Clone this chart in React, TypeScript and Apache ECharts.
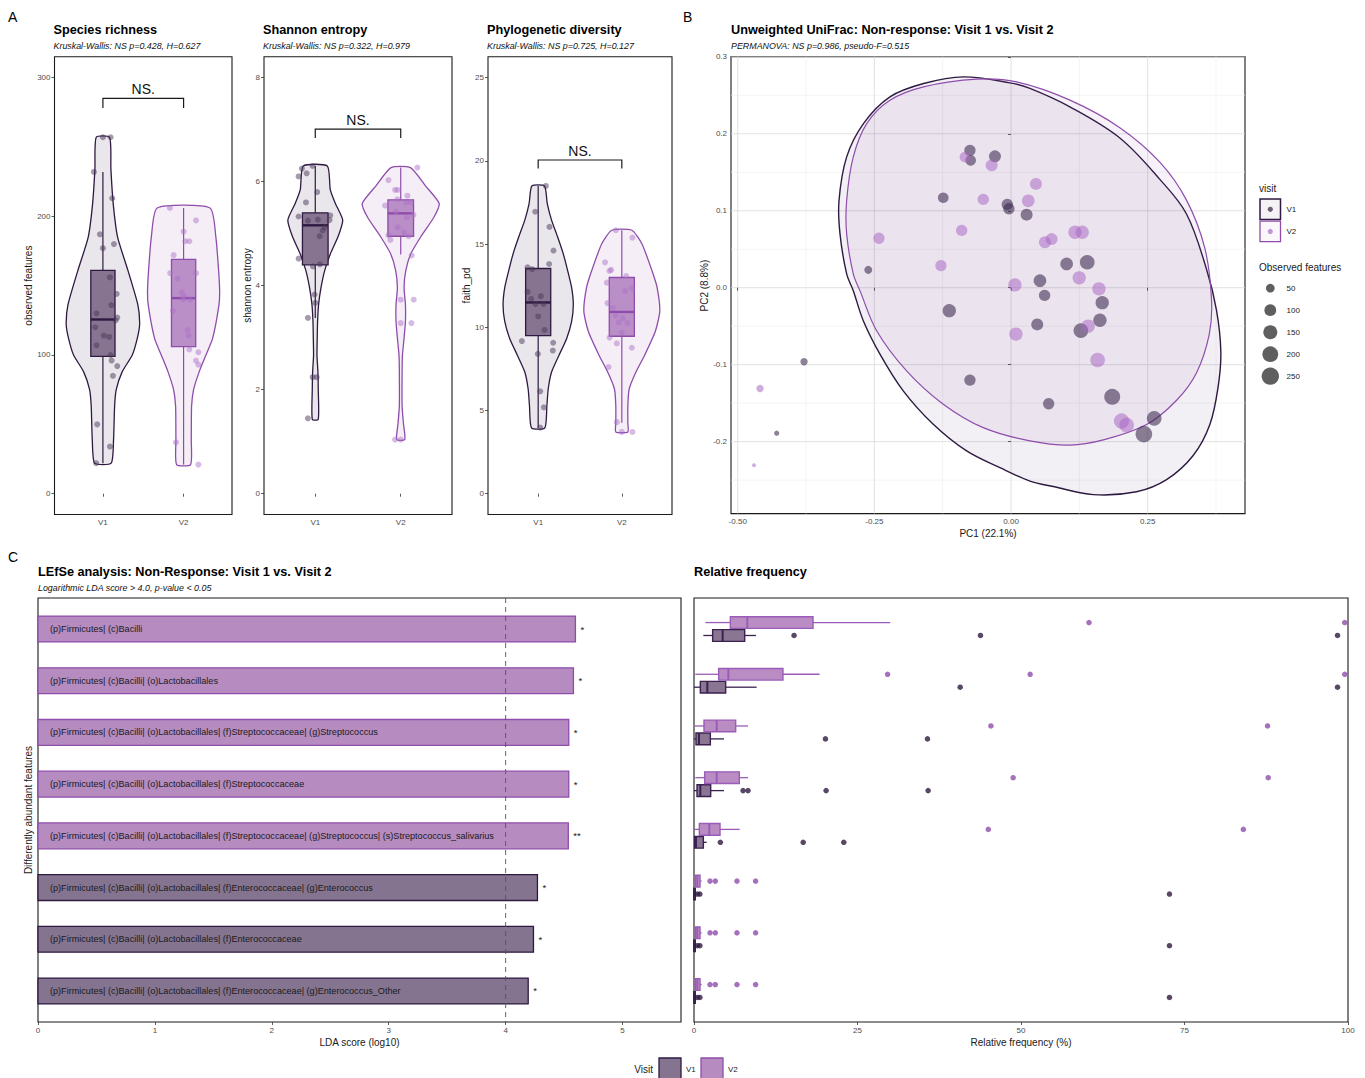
import React, { useEffect, useRef } from "react";
import * as echarts from "echarts";

const FONT = '"Liberation Sans", Arial, Helvetica, sans-serif';

// ================= Panel A: alpha diversity =================
const visits = ["V1", "V2"];

const richnessTicks = [0, 100, 200, 300];
const shannonTicks = [0, 2, 4, 6, 8];
const faithTicks = [0, 5, 10, 15, 20, 25];

// violin outlines: [value, half-width]
const richnessViolinV1 = [[22, 0.103], [39, 0.132], [63, 0.145], [75, 0.165], [88, 0.24], [100, 0.364], [112, 0.426], [122, 0.455], [136, 0.434], [161, 0.31], [185, 0.182], [209, 0.128], [234, 0.099], [257, 0.083]];
const richnessViolinV2 = [[21, 0.087], [39, 0.095], [63, 0.099], [75, 0.124], [88, 0.194], [100, 0.277], [112, 0.36], [136, 0.438], [146, 0.447], [161, 0.434], [185, 0.4], [206, 0.327]];
const shannonViolinV1 = [[1.43, 0.035], [2.01, 0.035], [2.34, 0.031], [2.66, 0.02], [2.99, 0.023], [3.31, 0.027], [3.64, 0.039], [3.96, 0.067], [4.29, 0.11], [4.61, 0.176], [4.94, 0.266], [5.26, 0.321], [5.58, 0.235], [5.84, 0.176], [6.3, 0.141]];
const shannonViolinV2 = [[1.04, 0.047], [1.36, 0.031], [1.69, 0.016], [2.34, 0.016], [2.66, 0.02], [2.99, 0.039], [3.31, 0.055], [3.64, 0.055], [3.96, 0.039], [4.29, 0.059], [4.61, 0.117], [4.94, 0.235], [5.32, 0.39], [5.58, 0.45], [5.91, 0.294], [6.27, 0.114]];
const faithViolinV1 = [[3.96, 0.08], [5.28, 0.104], [6.29, 0.12], [7.31, 0.16], [8.32, 0.249], [9.33, 0.341], [10.35, 0.4], [11.36, 0.42], [12.38, 0.4], [13.39, 0.353], [14.41, 0.3], [15.42, 0.233], [16.44, 0.16], [17.45, 0.108], [18.49, 0.076]];
const faithViolinV2 = [[3.71, 0.072], [4.26, 0.072], [5.28, 0.072], [6.29, 0.088], [7.31, 0.169], [8.32, 0.273], [9.74, 0.4], [10.96, 0.454], [12.38, 0.422], [13.39, 0.361], [15.02, 0.24], [15.83, 0.12]];

// boxes: [lower whisker, q1, median, q3, upper whisker]
const richnessBoxV1 = [22, 99, 125.6, 161, 232];
const richnessBoxV2 = [21, 106, 141, 169, 206];
const shannonBoxV1 = [3.38, 4.4, 5.16, 5.4, 6.3];
const shannonBoxV2 = [4.6, 4.95, 5.39, 5.65, 6.27];
const faithBoxV1 = [3.96, 9.5, 11.49, 13.53, 18.49];
const faithBoxV2 = [4.26, 9.46, 10.92, 12.99, 15.83];

// jittered samples: [x position, value]
const richnessPointsV1 = [[1.0, 257], [1.095, 257], [0.888, 232], [1.116, 213], [0.963, 187], [1.137, 180], [1.0, 177], [1.087, 156], [1.17, 144], [1.104, 136], [0.921, 130], [1.178, 127], [1.158, 125], [0.905, 120], [1.012, 114], [1.079, 113], [0.921, 107], [1.095, 100], [1.108, 96], [1.178, 92], [1.124, 85], [0.929, 50], [1.087, 34], [0.917, 22]];
const richnessPointsV2 = [[1.83, 206], [2.154, 197], [2.0, 189], [2.021, 182], [2.071, 182], [1.876, 172], [1.834, 159], [2.154, 159], [1.925, 155], [1.979, 145], [2.008, 142], [2.083, 140], [1.992, 140], [1.867, 132], [2.05, 118], [2.062, 114], [2.071, 104], [2.183, 102], [2.154, 96], [2.183, 93], [1.905, 37], [2.183, 21]];
const shannonPointsV1 = [[0.969, 6.3], [0.844, 6.25], [0.805, 6.1], [0.899, 6.16], [1.023, 5.8], [0.891, 5.6], [0.805, 5.33], [1.175, 5.35], [0.914, 5.25], [1.031, 5.27], [1.167, 5.26], [1.109, 5.12], [1.086, 5.06], [1.051, 4.95], [0.805, 4.52], [0.973, 4.37], [1.054, 4.41], [0.992, 3.83], [1.0, 3.67], [0.914, 3.38], [0.969, 2.24], [1.016, 2.24], [0.914, 1.45]];
const shannonPointsV2 = [[2.195, 6.27], [1.856, 6.03], [1.934, 5.84], [1.965, 5.84], [2.078, 5.73], [1.817, 5.54], [1.961, 5.66], [1.946, 5.42], [2.062, 5.6], [2.117, 5.6], [2.148, 5.36], [2.07, 5.31], [1.965, 5.12], [2.039, 5.03], [1.856, 4.97], [1.879, 4.88], [2.093, 4.95], [2.128, 4.58], [2.0, 3.73], [2.152, 3.73], [2.0, 3.28], [2.125, 3.28], [1.934, 1.04], [2.0, 1.04]];
const faithPointsV1 = [[1.092, 18.49], [0.964, 16.94], [1.135, 16.03], [1.183, 14.61], [1.131, 13.8], [0.873, 13.6], [0.928, 13.49], [0.873, 12.13], [0.916, 11.71], [1.032, 11.87], [0.968, 11.4], [1.064, 11.4], [1.0, 10.65], [1.076, 9.84], [0.805, 9.17], [1.179, 9.07], [1.175, 8.6], [0.996, 8.4], [1.024, 6.15], [1.068, 5.19], [1.024, 3.97]];
const faithPointsV2 = [[1.928, 15.83], [2.127, 15.38], [1.8, 13.9], [1.853, 13.39], [1.873, 13.45], [1.821, 12.68], [2.052, 13.08], [2.04, 12.18], [2.12, 12.34], [1.829, 11.45], [1.892, 11.16], [1.928, 10.69], [2.012, 10.55], [1.964, 10.29], [2.068, 10.25], [2.0, 9.68], [1.853, 9.38], [1.94, 9.03], [2.12, 8.77], [1.841, 7.61], [1.94, 4.3], [2.0, 3.71], [2.127, 3.71]];

// significance bracket: [bar level, tick end]
const richnessBracket = [285, 278];
const shannonBracket = [7.01, 6.84];
const faithBracket = [20.05, 19.54];

// ================= Panel B: PCoA =================
const pcoaXTicks = [-0.5, -0.25, 0, 0.25];
const pcoaXMinor = [-0.375, -0.125, 0.125, 0.375];
const pcoaYTicks = [-0.2, -0.1, 0, 0.1, 0.2, 0.3];
const pcoaYMinor = [-0.25, -0.15, -0.05, 0.05, 0.15, 0.25];

// [PC1, PC2, observed features]
const pcoaV1 = [[-0.0752, 0.1785, 91], [-0.0739, 0.1655, 79], [-0.0294, 0.1707, 104], [-0.124, 0.1169, 79], [-0.0069, 0.1082, 91], [-0.0039, 0.1026, 91], [0.0285, 0.0949, 104], [-0.2612, 0.0232, 42], [-0.113, -0.0298, 134], [-0.0752, -0.12, 91], [-0.3787, -0.0962, 36], [-0.4287, -0.189, 23], [0.1017, 0.0309, 119], [0.1394, 0.0331, 169], [0.0529, 0.0092, 119], [0.0614, -0.01, 91], [0.1668, -0.0194, 134], [0.1626, -0.0423, 134], [0.1278, -0.0557, 169], [0.0479, -0.0477, 104], [0.0688, -0.1508, 91], [0.1851, -0.1418, 208], [0.2619, -0.1697, 169], [0.243, -0.1902, 229]];
const pcoaV2 = [[-0.0843, 0.1698, 79], [-0.0355, 0.159, 104], [-0.0508, 0.1147, 91], [0.0455, 0.1349, 104], [0.0315, 0.1129, 119], [-0.0903, 0.0744, 91], [-0.2416, 0.0643, 91], [-0.1282, 0.0288, 91], [0.0071, 0.0036, 134], [0.009, -0.0602, 134], [-0.4592, -0.131, 36], [-0.4702, -0.2307, 21], [0.062, 0.0591, 104], [0.0742, 0.0632, 104], [0.1169, 0.0721, 134], [0.1302, 0.0721, 134], [0.1247, 0.0129, 134], [0.1608, -0.0014, 134], [0.1412, -0.0499, 134], [0.1584, -0.0939, 169], [0.2022, -0.1732, 187], [0.2114, -0.1785, 169]];

const hullV1 = [[-0.0874, 0.274], [-0.002, 0.2662], [0.0346, 0.2589], [0.1077, 0.2349], [0.199, 0.1945], [0.2722, 0.1408], [0.321, 0.0958], [0.3576, 0.0241], [0.376, -0.0297], [0.3838, -0.0835], [0.3789, -0.1284], [0.3637, -0.1777], [0.3332, -0.218], [0.2845, -0.2494], [0.2296, -0.2651], [0.1503, -0.2688], [0.0772, -0.2583], [0.0346, -0.2512], [-0.0203, -0.2339], [-0.0812, -0.2121], [-0.1423, -0.1774], [-0.1972, -0.134], [-0.2398, -0.0862], [-0.2703, -0.0428], [-0.2886, -0.0038], [-0.3007, 0.018], [-0.3129, 0.07], [-0.3147, 0.1134], [-0.3007, 0.17], [-0.27, 0.2133], [-0.2215, 0.248], [-0.16, 0.2653]];
const hullV2 = [[-0.063, 0.271], [0.0102, 0.2675], [0.1077, 0.2438], [0.199, 0.208], [0.2722, 0.1632], [0.321, 0.1138], [0.3546, 0.051], [0.3668, -0.0163], [0.3625, -0.061], [0.3394, -0.1104], [0.3029, -0.1462], [0.248, -0.1777], [0.1687, -0.1978], [0.1077, -0.2046], [0.0346, -0.1991], [-0.0508, -0.1818], [-0.124, -0.1513], [-0.1911, -0.108], [-0.2459, -0.0559], [-0.2764, -0.0038], [-0.2886, 0.018], [-0.3007, 0.07], [-0.3007, 0.1134], [-0.2886, 0.17], [-0.264, 0.2133], [-0.2215, 0.2436], [-0.16, 0.261]];

const sizeLegendValues = [50, 100, 150, 200, 250];
const OBS_MIN = 21;
const OBS_MAX = 257;

// ================= Panel C: LEfSe =================
const lefseFeatures = [
  "(p)Firmicutes| (c)Bacilli",
  "(p)Firmicutes| (c)Bacilli| (o)Lactobacillales",
  "(p)Firmicutes| (c)Bacilli| (o)Lactobacillales| (f)Streptococcaceae| (g)Streptococcus",
  "(p)Firmicutes| (c)Bacilli| (o)Lactobacillales| (f)Streptococcaceae",
  "(p)Firmicutes| (c)Bacilli| (o)Lactobacillales| (f)Streptococcaceae| (g)Streptococcus| (s)Streptococcus_salivarius",
  "(p)Firmicutes| (c)Bacilli| (o)Lactobacillales| (f)Enterococcaceae| (g)Enterococcus",
  "(p)Firmicutes| (c)Bacilli| (o)Lactobacillales| (f)Enterococcaceae",
  "(p)Firmicutes| (c)Bacilli| (o)Lactobacillales| (f)Enterococcaceae| (g)Enterococcus_Other",
];
const lefseLDA = [4.597, 4.58, 4.54, 4.54, 4.536, 4.272, 4.238, 4.193];
const lefseVisit = ["V2", "V2", "V2", "V2", "V2", "V1", "V1", "V1"];
const lefseSignif = ["*", "*", "*", "*", "**", "*", "*", "*"];
const ldaTicks = [0, 1, 2, 3, 4, 5];
const ldaThreshold = [4];

// ================= Panel D: relative frequency =================
const relTicks = [0, 25, 50, 75, 100];
// [lower whisker, q1, median, q3, upper whisker] per feature row
const relBoxV2 = [[1.73, 5.56, 8.15, 18.2, 30.0], [0.2, 3.77, 5.25, 13.6, 19.2], [0.1, 1.53, 3.47, 6.37, 8.26], [0.2, 1.63, 3.47, 6.93, 8.26], [0.1, 0.82, 2.34, 3.98, 6.98], [0, 0.2, 0.5, 0.92, 1.17], [0, 0.2, 0.5, 0.92, 1.17], [0, 0.2, 0.5, 0.92, 1.17]];
const relBoxV1 = [[1.43, 2.85, 4.38, 7.75, 9.48], [0, 0.97, 2.04, 4.84, 9.58], [0, 0.3, 0.76, 2.5, 4.59], [0, 0.46, 0.97, 2.55, 4.59], [0, 0.1, 0.3, 1.43, 1.94], [0, 0, 0, 0.2, 0.4], [0, 0, 0, 0.2, 0.4], [0, 0, 0, 0.2, 0.4]];
const relOutV2 = [[60.4, 99.5], [29.6, 51.4, 99.5], [45.4, 87.7], [48.8, 87.8], [45.0, 84.0], [2.45, 3.26, 6.57, 9.42], [2.45, 3.26, 6.57, 9.42], [2.45, 3.26, 6.57, 9.42]];
const relOutV1 = [[15.3, 43.8, 98.4], [40.7, 98.4], [20.1, 35.7], [7.5, 8.26, 20.2, 35.8], [4.03, 16.7, 22.9], [0.5, 0.9, 72.7], [0.5, 0.9, 72.7], [0.5, 0.9, 72.7]];

// ================= styling =================
const V1_LINE = "#2e1a40";
const V2_LINE = "#8e4dab";
const VIOLIN_FILL = ["#e9e6ec", "#f5eef7"];
const LINE = [V1_LINE, V2_LINE];
const BOX_FILL = ["#877490", "#ba8fc7"];
const PT = ["rgba(72,52,90,0.62)", "rgba(172,112,198,0.6)"];
const BUBBLE = ["rgba(58,38,76,0.72)", "rgba(168,104,196,0.68)"];
const HULL_FILL = ["rgba(59,30,84,0.065)", "rgba(155,89,182,0.08)"];
const BAR_FILL: any = { V1: "#857490", V2: "#b68bbf" };
const BAR_LINE: any = { V1: V1_LINE, V2: V2_LINE };
const REL_FILL = ["#8a7692", "#b98cc4"];
const REL_LINE = ["#3a2150", "#9a5cb6"];
const REL_OUT = ["#2e1a40", "#8e4dab"];
const DODGE = 0.125;

const TITLE_SIZE = 12.7;
const SUB_SIZE = 8.9;
const AXIS_TITLE_SIZE = 10;
const TICK_SIZE = 8;

const sizeOf = (v: number) => 3.95 + 13.55 * Math.sqrt(Math.max(0, (v - OBS_MIN) / (OBS_MAX - OBS_MIN)));

const alphaPanels = [
  { title: "Species richness", subtitle: "Kruskal-Wallis: NS p=0.428, H=0.627", yName: "observed features", ticks: richnessTicks, violins: [richnessViolinV1, richnessViolinV2], boxes: [richnessBoxV1, richnessBoxV2], points: [richnessPointsV1, richnessPointsV2], bracket: richnessBracket },
  { title: "Shannon entropy", subtitle: "Kruskal-Wallis: NS p=0.322, H=0.979", yName: "shannon entropy", ticks: shannonTicks, violins: [shannonViolinV1, shannonViolinV2], boxes: [shannonBoxV1, shannonBoxV2], points: [shannonPointsV1, shannonPointsV2], bracket: shannonBracket },
  { title: "Phylogenetic diversity", subtitle: "Kruskal-Wallis: NS p=0.725, H=0.127", yName: "faith_pd", ticks: faithTicks, violins: [faithViolinV1, faithViolinV2], boxes: [faithBoxV1, faithBoxV2], points: [faithPointsV1, faithPointsV2], bracket: faithBracket },
];
const alphaLayout = [
  { left: 54.5, width: 177.5, yNameX: 28 },
  { left: 264, width: 188, yNameX: 247 },
  { left: 488, width: 184, yNameX: 466.5 },
];

const tickLabel = { color: "#4d4d4d", fontSize: TICK_SIZE, fontFamily: FONT, margin: 4 };
const tickStyle = { show: true, length: 3, lineStyle: { color: "#333", width: 0.8 } };

function txt(x: number, y: number, text: string, o: any = {}) {
  const align = o.align || "left";
  return {
    type: "text",
    x,
    y,
    rotation: o.rot || 0,
    silent: true,
    z: 100,
    style: {
      text,
      fontFamily: FONT,
      fontSize: o.size || 9,
      fontWeight: o.weight || "normal",
      fontStyle: o.italic ? "italic" : "normal",
      fill: o.color || "#1a1a1a",
      textAlign: align,
      textVerticalAlign: "middle",
      align,
      verticalAlign: "middle",
    },
  };
}

function buildOption() {
  const grid: any[] = [];
  const xAxis: any[] = [];
  const yAxis: any[] = [];
  const series: any[] = [];
  const graphics: any[] = [];

  const gridBase = { show: true, borderColor: "#1a1a1a", borderWidth: 1.1, backgroundColor: "transparent" };

  // ---------- Panel A ----------
  alphaPanels.forEach((p, gi) => {
    const L = alphaLayout[gi];
    const lo = p.ticks[0];
    const hi = p.ticks[p.ticks.length - 1];
    const pad = 0.05 * (hi - lo);
    grid.push({ ...gridBase, left: L.left, top: 56.8, width: L.width, height: 457.7 });
    xAxis.push({
      type: "value", gridIndex: gi, min: 0.4, max: 2.6,
      axisLine: { show: false }, splitLine: { show: false },
      axisTick: { ...tickStyle, customValues: [1, 2] },
      axisLabel: { ...tickLabel, customValues: [1, 2], formatter: (v: number) => visits[Math.round(v) - 1] },
    });
    yAxis.push({
      type: "value", gridIndex: gi, min: lo - pad, max: hi + pad,
      axisLine: { show: false }, splitLine: { show: false },
      axisTick: { ...tickStyle, customValues: p.ticks },
      axisLabel: { ...tickLabel, customValues: p.ticks },
    });

    series.push({
      type: "custom", xAxisIndex: gi, yAxisIndex: gi, z: 1, silent: true,
      data: [[1, 0], [2, 1]],
      renderItem: (params: any, api: any) => {
        const k = params.dataIndex;
        const prof = p.violins[k];
        const cx = api.value(0);
        const right = prof.map((d: number[]) => api.coord([cx + d[1], d[0]]));
        const left = prof.slice().reverse().map((d: number[]) => api.coord([cx - d[1], d[0]]));
        return {
          type: "polygon",
          shape: { points: right.concat(left), smooth: 0.2 },
          style: { fill: VIOLIN_FILL[k], stroke: LINE[k], lineWidth: 1.3 },
        };
      },
    });

    series.push({
      type: "custom", xAxisIndex: gi, yAxisIndex: gi, z: 2, silent: true,
      data: [[1, ...p.boxes[0]], [2, ...p.boxes[1]]],
      renderItem: (params: any, api: any) => {
        const k = params.dataIndex;
        const cx = api.value(0);
        const w = 0.15;
        const vlo = api.value(1), q1 = api.value(2), med = api.value(3), q3 = api.value(4), vhi = api.value(5);
        const top = api.coord([cx, vhi]);
        const bq3 = api.coord([cx, q3]);
        const bq1 = api.coord([cx, q1]);
        const bot = api.coord([cx, vlo]);
        const a = api.coord([cx - w, q3]);
        const b = api.coord([cx + w, q1]);
        const m1 = api.coord([cx - w, med]);
        const m2 = api.coord([cx + w, med]);
        const st = { stroke: LINE[k], lineWidth: 1.2 };
        return {
          type: "group",
          children: [
            { type: "line", shape: { x1: top[0], y1: top[1], x2: bq3[0], y2: bq3[1] }, style: st },
            { type: "line", shape: { x1: bq1[0], y1: bq1[1], x2: bot[0], y2: bot[1] }, style: st },
            { type: "rect", shape: { x: a[0], y: a[1], width: b[0] - a[0], height: b[1] - a[1] }, style: { fill: BOX_FILL[k], stroke: LINE[k], lineWidth: 1.3 } },
            { type: "line", shape: { x1: m1[0], y1: m1[1], x2: m2[0], y2: m2[1] }, style: { stroke: LINE[k], lineWidth: 2.4 } },
          ],
        };
      },
    });

    [0, 1].forEach((k) => {
      series.push({
        type: "scatter", xAxisIndex: gi, yAxisIndex: gi, z: 3, silent: true,
        data: p.points[k], symbolSize: 6, itemStyle: { color: PT[k] },
      });
    });

    series.push({
      type: "custom", xAxisIndex: gi, yAxisIndex: gi, z: 4, silent: true,
      data: [[1, 2, p.bracket[0], p.bracket[1]]],
      renderItem: (params: any, api: any) => {
        const x1 = api.value(0), x2 = api.value(1), lvl = api.value(2), end = api.value(3);
        const a = api.coord([x1, end]);
        const b = api.coord([x1, lvl]);
        const c = api.coord([x2, lvl]);
        const d = api.coord([x2, end]);
        return {
          type: "group",
          children: [
            { type: "polyline", shape: { points: [a, b, c, d] }, style: { stroke: "#1a1a1a", lineWidth: 1.2, fill: "none" } },
            { type: "text", x: (b[0] + c[0]) / 2, y: b[1] - 9, style: { text: "NS.", fontFamily: FONT, fontSize: 14, fill: "#111", align: "center", verticalAlign: "middle", textAlign: "center", textVerticalAlign: "middle" } },
          ],
        };
      },
    });

    graphics.push(txt(L.left - 1, 30, p.title, { size: TITLE_SIZE, weight: "bold", color: "#000" }));
    graphics.push(txt(L.left - 1, 46, p.subtitle, { size: SUB_SIZE, italic: true, color: "#111" }));
    graphics.push(txt(L.yNameX, 285.6, p.yName, { size: AXIS_TITLE_SIZE, align: "center", rot: Math.PI / 2 }));
  });

  // ---------- Panel B ----------
  const gB = 3;
  grid.push({ ...gridBase, left: 731, top: 56.6, width: 514, height: 457 });
  xAxis.push({
    type: "value", gridIndex: gB, min: -0.5123, max: 0.428,
    axisLine: { show: false }, splitLine: { show: false },
    axisTick: { ...tickStyle, customValues: pcoaXTicks },
    axisLabel: { ...tickLabel, customValues: pcoaXTicks, formatter: (v: number) => v.toFixed(2) },
  });
  yAxis.push({
    type: "value", gridIndex: gB, min: -0.2935, max: 0.3003,
    axisLine: { show: false }, splitLine: { show: false },
    axisTick: { ...tickStyle, customValues: pcoaYTicks },
    axisLabel: { ...tickLabel, customValues: pcoaYTicks, formatter: (v: number) => v.toFixed(1) },
  });
  const gridLineData = [
    ...pcoaXMinor.map((v) => [v, 0, 0]),
    ...pcoaYMinor.map((v) => [v, 1, 0]),
    ...pcoaXTicks.map((v) => [v, 0, 1]),
    ...pcoaYTicks.map((v) => [v, 1, 1]),
  ];
  series.push({
    type: "custom", xAxisIndex: gB, yAxisIndex: gB, z: 0, silent: true,
    data: gridLineData,
    renderItem: (params: any, api: any) => {
      const v = api.value(0), o = api.value(1), m = api.value(2);
      const cs = params.coordSys;
      const style = { stroke: m ? "#d9d9d9" : "#ececec", lineWidth: m ? 0.8 : 0.6 };
      if (o === 0) {
        const x = api.coord([v, 0])[0];
        return { type: "line", shape: { x1: x, y1: cs.y, x2: x, y2: cs.y + cs.height }, style };
      }
      const y = api.coord([0, v])[1];
      return { type: "line", shape: { x1: cs.x, y1: y, x2: cs.x + cs.width, y2: y }, style };
    },
  });
  const hulls = [hullV1, hullV2];
  series.push({
    type: "custom", xAxisIndex: gB, yAxisIndex: gB, z: 1, silent: true,
    data: [[0, 0], [0, 0]],
    renderItem: (params: any, api: any) => {
      const k = params.dataIndex;
      const pts = hulls[k].map((d) => api.coord(d));
      return {
        type: "polygon",
        shape: { points: pts, smooth: 0.35 },
        style: { fill: HULL_FILL[k], stroke: LINE[k], lineWidth: k === 0 ? 1.4 : 1.2 },
      };
    },
  });
  [pcoaV1, pcoaV2].forEach((d, k) => {
    series.push({
      type: "scatter", xAxisIndex: gB, yAxisIndex: gB, z: 3, silent: true,
      data: d, symbolSize: (val: number[]) => sizeOf(val[2]),
      itemStyle: { color: BUBBLE[k] },
    });
  });
  graphics.push(txt(683, 17, "B", { size: 14, color: "#000" }));
  graphics.push(txt(731, 30, "Unweighted UniFrac: Non-response: Visit 1 vs. Visit 2", { size: TITLE_SIZE, weight: "bold", color: "#000" }));
  graphics.push(txt(731, 46, "PERMANOVA: NS p=0.986, pseudo-F=0.515", { size: SUB_SIZE, italic: true, color: "#111" }));
  graphics.push(txt(704, 285.6, "PC2 (8.8%)", { size: AXIS_TITLE_SIZE, align: "center", rot: Math.PI / 2 }));
  graphics.push(txt(988, 533, "PC1 (22.1%)", { size: AXIS_TITLE_SIZE, align: "center" }));

  // legend B
  graphics.push(txt(1259, 188, "visit", { size: AXIS_TITLE_SIZE }));
  graphics.push({ type: "rect", shape: { x: 1260, y: 199, width: 20.5, height: 20.5 }, style: { fill: "#f4f2f5", stroke: V1_LINE, lineWidth: 1.5 }, z: 100, silent: true });
  graphics.push({ type: "circle", shape: { cx: 1270.3, cy: 209.3, r: 2.6 }, style: { fill: BUBBLE[0] }, z: 101, silent: true });
  graphics.push(txt(1286.5, 209.3, "V1", { size: TICK_SIZE }));
  graphics.push({ type: "rect", shape: { x: 1260, y: 221.2, width: 20.5, height: 20.5 }, style: { fill: "#fbf8fc", stroke: V2_LINE, lineWidth: 1.3 }, z: 100, silent: true });
  graphics.push({ type: "circle", shape: { cx: 1270.3, cy: 231.5, r: 2.6 }, style: { fill: BUBBLE[1] }, z: 101, silent: true });
  graphics.push(txt(1286.5, 231.5, "V2", { size: TICK_SIZE }));
  graphics.push(txt(1259, 267.5, "Observed features", { size: AXIS_TITLE_SIZE }));
  sizeLegendValues.forEach((v, i) => {
    const cy = 288.2 + i * 22;
    graphics.push({ type: "circle", shape: { cx: 1270.3, cy, r: sizeOf(v) / 2 }, style: { fill: "rgba(60,60,60,0.82)" }, z: 100, silent: true });
    graphics.push(txt(1286.5, cy, String(v), { size: TICK_SIZE }));
  });

  // ---------- Panel C ----------
  const gC = 4;
  grid.push({ ...gridBase, left: 38, top: 598, width: 643, height: 424 });
  xAxis.push({
    type: "value", gridIndex: gC, min: 0, max: 5.5,
    axisLine: { show: false }, splitLine: { show: false },
    axisTick: { ...tickStyle, customValues: ldaTicks },
    axisLabel: { ...tickLabel, customValues: ldaTicks },
  });
  yAxis.push({
    type: "value", gridIndex: gC, min: 0.4, max: 8.6, inverse: true,
    axisLine: { show: false }, splitLine: { show: false }, axisTick: { show: false }, axisLabel: { show: false },
  });
  series.push({
    type: "custom", xAxisIndex: gC, yAxisIndex: gC, z: 2, silent: true,
    data: lefseLDA.map((s, i) => [s, i + 1]),
    renderItem: (params: any, api: any) => {
      const i = params.dataIndex;
      const s = api.value(0), row = api.value(1);
      const g = lefseVisit[i];
      const p0 = api.coord([0, row - 0.25]);
      const p1 = api.coord([s, row + 0.25]);
      const yc = api.coord([0, row])[1];
      return {
        type: "group",
        children: [
          { type: "rect", shape: { x: p0[0], y: p0[1], width: p1[0] - p0[0], height: p1[1] - p0[1] }, style: { fill: BAR_FILL[g], stroke: BAR_LINE[g], lineWidth: 1.3 } },
          { type: "text", x: p0[0] + 12, y: yc, style: { text: lefseFeatures[i], fontFamily: FONT, fontSize: 9.1, fill: "#1a1a1a", align: "left", verticalAlign: "middle", textAlign: "left", textVerticalAlign: "middle" } },
          { type: "text", x: p1[0] + 5, y: yc, style: { text: lefseSignif[i], fontFamily: FONT, fontSize: 9.5, fill: "#1a1a1a", align: "left", verticalAlign: "middle", textAlign: "left", textVerticalAlign: "middle" } },
        ],
      };
    },
  });
  series.push({
    type: "custom", xAxisIndex: gC, yAxisIndex: gC, z: 5, silent: true,
    data: ldaThreshold.map((v) => [v, 1]),
    renderItem: (params: any, api: any) => {
      const cs = params.coordSys;
      const x = api.coord([api.value(0), 1])[0];
      return { type: "line", shape: { x1: x, y1: cs.y, x2: x, y2: cs.y + cs.height }, style: { stroke: "#555", lineWidth: 0.9, lineDash: [5, 4] } };
    },
  });
  graphics.push(txt(8, 17, "A", { size: 14, color: "#000" }));
  graphics.push(txt(8, 557, "C", { size: 14, color: "#000" }));
  graphics.push(txt(38, 572, "LEfSe analysis: Non-Response: Visit 1 vs. Visit 2", { size: TITLE_SIZE, weight: "bold", color: "#000" }));
  graphics.push(txt(38, 588, "Logarithmic LDA score > 4.0, p-value < 0.05", { size: SUB_SIZE, italic: true, color: "#111" }));
  graphics.push(txt(28, 810, "Differently abundant features", { size: AXIS_TITLE_SIZE, align: "center", rot: Math.PI / 2 }));
  graphics.push(txt(359.5, 1042, "LDA score (log10)", { size: AXIS_TITLE_SIZE, align: "center" }));

  // ---------- Panel D ----------
  const gD = 5;
  grid.push({ ...gridBase, left: 694, top: 598, width: 654, height: 424 });
  xAxis.push({
    type: "value", gridIndex: gD, min: 0, max: 100,
    axisLine: { show: false }, splitLine: { show: false },
    axisTick: { ...tickStyle, customValues: relTicks },
    axisLabel: { ...tickLabel, customValues: relTicks },
  });
  yAxis.push({
    type: "value", gridIndex: gD, min: 0.4, max: 8.6, inverse: true,
    axisLine: { show: false }, splitLine: { show: false }, axisTick: { show: false }, axisLabel: { show: false },
  });
  const relData: any[] = [];
  relBoxV1.forEach((b, r) => relData.push([...b, r + 1, 0]));
  relBoxV2.forEach((b, r) => relData.push([...b, r + 1, 1]));
  series.push({
    type: "custom", xAxisIndex: gD, yAxisIndex: gD, z: 2, silent: true,
    data: relData,
    renderItem: (params: any, api: any) => {
      const lo = api.value(0), q1 = api.value(1), med = api.value(2), q3 = api.value(3), hi = api.value(4);
      const row = api.value(5), g = api.value(6);
      const yc = row + (g === 1 ? -DODGE : DODGE);
      const h = 0.113;
      const a = api.coord([q1, yc - h]);
      const b = api.coord([q3, yc + h]);
      const m1 = api.coord([med, yc - h]);
      const m2 = api.coord([med, yc + h]);
      const w1 = api.coord([lo, yc]);
      const w2 = api.coord([q1, yc]);
      const w3 = api.coord([q3, yc]);
      const w4 = api.coord([hi, yc]);
      const st = { stroke: REL_LINE[g], lineWidth: 1.3 };
      return {
        type: "group",
        children: [
          { type: "line", shape: { x1: w1[0], y1: w1[1], x2: w2[0], y2: w2[1] }, style: st },
          { type: "line", shape: { x1: w3[0], y1: w3[1], x2: w4[0], y2: w4[1] }, style: st },
          { type: "rect", shape: { x: a[0], y: a[1], width: Math.max(b[0] - a[0], 0.5), height: b[1] - a[1] }, style: { fill: REL_FILL[g], stroke: REL_LINE[g], lineWidth: 1.4 } },
          { type: "line", shape: { x1: m1[0], y1: m1[1], x2: m2[0], y2: m2[1] }, style: { stroke: REL_LINE[g], lineWidth: 2 } },
        ],
      };
    },
  });
  [relOutV1, relOutV2].forEach((outs, g) => {
    const d: number[][] = [];
    outs.forEach((vals, r) => vals.forEach((v) => d.push([v, r + 1 + (g === 1 ? -DODGE : DODGE)])));
    series.push({
      type: "scatter", xAxisIndex: gD, yAxisIndex: gD, z: 3, silent: true,
      data: d, symbolSize: 5.5, itemStyle: { color: REL_OUT[g] },
    });
  });
  graphics.push(txt(694, 572, "Relative frequency", { size: TITLE_SIZE, weight: "bold", color: "#000" }));
  graphics.push(txt(1021, 1042, "Relative frequency (%)", { size: AXIS_TITLE_SIZE, align: "center" }));

  // legend C/D
  graphics.push(txt(653, 1069, "Visit", { size: AXIS_TITLE_SIZE, align: "right" }));
  graphics.push({ type: "rect", shape: { x: 659, y: 1058, width: 22, height: 22 }, style: { fill: BAR_FILL.V1, stroke: V1_LINE, lineWidth: 1.3 }, z: 100, silent: true });
  graphics.push(txt(686, 1069, "V1", { size: TICK_SIZE }));
  graphics.push({ type: "rect", shape: { x: 701, y: 1058, width: 22, height: 22 }, style: { fill: BAR_FILL.V2, stroke: V2_LINE, lineWidth: 1.3 }, z: 100, silent: true });
  graphics.push(txt(728, 1069, "V2", { size: TICK_SIZE }));

  return {
    animation: false,
    backgroundColor: "#ffffff",
    textStyle: { fontFamily: FONT },
    grid,
    xAxis,
    yAxis,
    series,
    graphic: { elements: graphics },
  };
}

export default function App() {
  const ref = useRef<HTMLDivElement>(null);
  useEffect(() => {
    if (!ref.current) return;
    const chart = echarts.init(ref.current, null, { renderer: "svg" });
    chart.setOption(buildOption() as any);
    return () => {
      chart.dispose();
    };
  }, []);
  return (
    <div
      ref={ref}
      style={{ position: "absolute", left: 0, top: 0, width: 1365, height: 1078, background: "#fff" }}
    />
  );
}
